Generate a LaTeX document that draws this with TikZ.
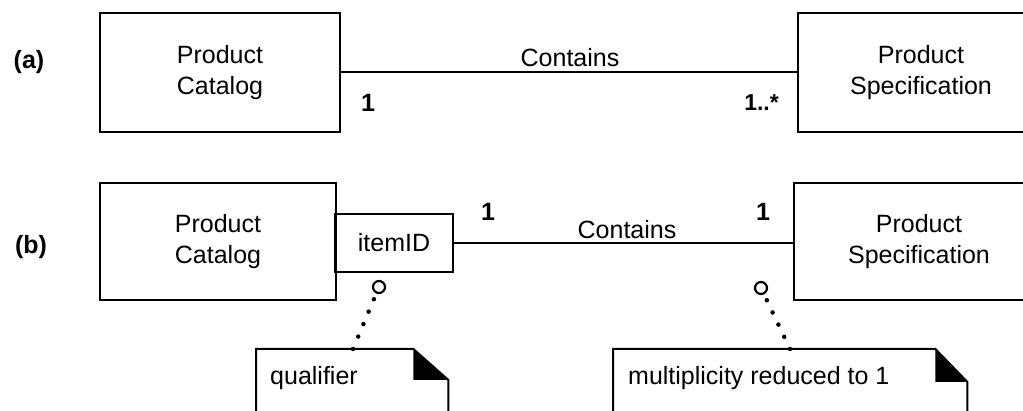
\documentclass[tikz,border=0pt]{standalone}
\usepackage{fontspec}
\setmainfont{Liberation Sans}
\begin{document}
\begin{tikzpicture}[x=1pt, y=-1pt,
  font=\fontsize{25}{31}\selectfont,
  classbox/.style={draw, line width=2pt, inner sep=0pt, align=center},
  assoc/.style={line width=2pt},
  mult/.style={inner sep=0pt, font=\fontsize{25}{31}\selectfont\bfseries},
  partlabel/.style={inner sep=0pt, font=\fontsize{25}{31}\selectfont\bfseries},
  notebody/.style={inner sep=0pt},
  noteline/.style={line width=2pt, line join=miter},
  knot/.style={circle, draw, line width=2.2pt, minimum size=12pt, inner sep=0pt},
  dotlink/.style={line width=4.5pt, line cap=round, dash pattern=on 0pt off 13.5pt}]
\useasboundingbox (0,0) rectangle (1023,411);
\clip (0,0) rectangle (1023,411);

% ---- (a) plain association ----
\node[partlabel] (la) at (29,62) {(a)};
\node[classbox, minimum width=240, minimum height=119] (pcA) at (220,72.5)
  {Product\\Catalog};
\node[classbox, minimum width=246, minimum height=119, anchor=west] (psA) at (797,72.5)
  {Product\\Specification};
\draw[assoc] (pcA.east |- 0,72) -- (psA.west |- 0,72);
\node[inner sep=0pt] (cA) at (570,58) {Contains};
\node[mult] (mA1) at (368,103) {1};
\node[mult, anchor=east, font=\fontsize{23}{29}\selectfont\bfseries] (mA2) at (779,103) {1..*};

% ---- (b) qualified association ----
\node[partlabel] (lb) at (31,247) {(b)};
\node[classbox, minimum width=236, minimum height=117] (pcB) at (218,241.5)
  {Product\\Catalog};
\node[classbox, minimum width=118, minimum height=58] (item) at (394,243) {itemID};
\node[classbox, minimum width=250, minimum height=117, anchor=west] (psB) at (793,241.5)
  {Product\\Specification};
\draw[assoc] (item.east) -- (item.east -| psB.west);
\node[inner sep=0pt] (cB) at (627,230) {Contains};
\node[mult] (mB1) at (488,212) {1};
\node[mult] (mB2) at (763,212) {1};

% ---- notes ----
\node[notebody, minimum width=192, minimum height=110, anchor=north west] (qn) at (256,349) {};
\node[inner sep=0pt, anchor=west] (qt) at (270,378) {qualifier};
\draw[noteline] (qn.south west) -- (qn.north west) -- ([xshift=-35pt]qn.north east)
  -- ([yshift=-31pt]qn.north east) -- (qn.south east);
\fill ([xshift=-35pt]qn.north east) -- ([xshift=-35pt,yshift=-31pt]qn.north east)
  -- ([yshift=-31pt]qn.north east) -- cycle;

\node[notebody, minimum width=354, minimum height=110, anchor=north west] (mn) at (613,349) {};
\node[inner sep=0pt, anchor=west] (mt) at (628,378) {multiplicity reduced to 1};
\draw[noteline] (mn.south west) -- (mn.north west) -- ([xshift=-32pt]mn.north east)
  -- ([yshift=-33pt]mn.north east) -- (mn.south east);
\fill ([xshift=-32pt]mn.north east) -- ([xshift=-32pt,yshift=-33pt]mn.north east)
  -- ([yshift=-33pt]mn.north east) -- cycle;

% ---- note anchors ----
\node[knot] (k1) at (379,287) {};
\coordinate (a1) at (353,349);
\draw[dotlink] (a1) -- (k1);

\node[knot] (k2) at (761,288) {};
\coordinate (a2) at (790,349);
\draw[dotlink] (a2) -- (k2);
\end{tikzpicture}
\end{document}
